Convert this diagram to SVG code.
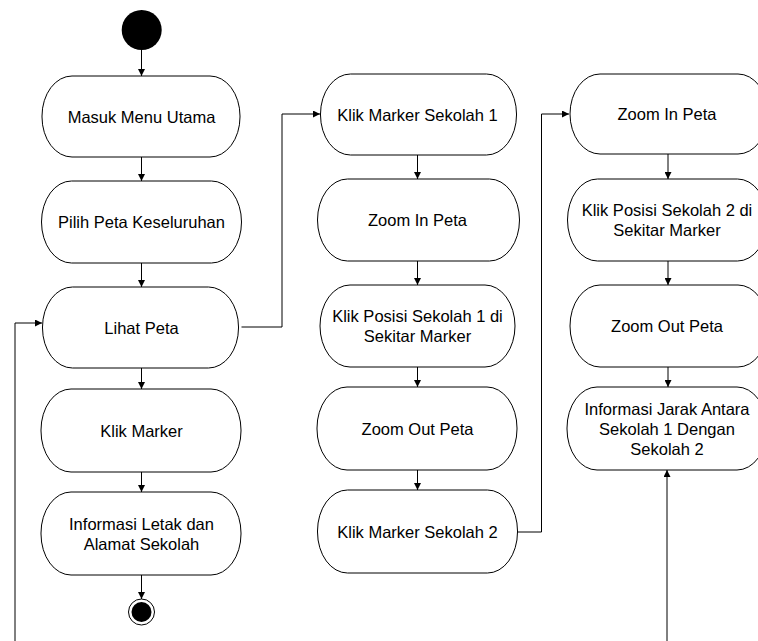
<svg xmlns="http://www.w3.org/2000/svg" width="758" height="641" viewBox="0 0 758 641">
<style>
.node rect{fill:#fff;stroke:#000;stroke-width:1}
text{font-family:"Liberation Sans",Arial,sans-serif;font-size:16.5px;fill:#000;text-anchor:middle}
.conn path{fill:none;stroke:#000;stroke-width:1;marker-end:url(#arr)}
</style>
<defs>
<marker id="arr" markerUnits="userSpaceOnUse" markerWidth="8" markerHeight="7" refX="7" refY="3.5" orient="auto">
<path d="M0,0 L7,3.5 L0,7 z" fill="#000"/>
</marker>
</defs>
<rect width="758" height="641" fill="#fff"/>
<g id="connectors" class="conn">
<path d="M141.5,50 V76"/>
<path d="M141.5,157 V181"/>
<path d="M141.5,263 V287"/>
<path d="M141.5,368 V389"/>
<path d="M141.5,472 V492"/>
<path d="M141.5,575 V599"/>
<path d="M241.5,327 H282 V114 H320"/>
<path d="M417.5,155 V179"/>
<path d="M417.5,261 V285"/>
<path d="M417.5,367 V387"/>
<path d="M417.5,470 V490"/>
<path d="M517.5,532 H541.5 V114 H569"/>
<path d="M668,154 V179"/>
<path d="M668,261 V285"/>
<path d="M668,367 V387"/>
<path d="M15,641 V323 H42"/>
<path d="M667,641 V470"/>
</g>
<g id="start"><circle cx="141.7" cy="30" r="20" fill="#000"/></g>
<g id="end"><circle cx="141.5" cy="612" r="13" fill="#fff" stroke="#000" stroke-width="1"/><circle cx="141.5" cy="612" r="10" fill="#000"/></g>
<g id="n1" class="node"><rect x="42" y="76" width="198" height="81" rx="30" ry="40"/><text x="141.5" y="122.5">Masuk Menu Utama</text></g>
<g id="n2" class="node"><rect x="41.5" y="181" width="200" height="82" rx="30" ry="41"/><text x="141.5" y="228">Pilih Peta Keseluruhan</text></g>
<g id="n3" class="node"><rect x="42.5" y="287" width="196" height="81" rx="30" ry="40"/><text x="141.5" y="334">Lihat Peta</text></g>
<g id="n4" class="node"><rect x="41" y="389" width="200" height="83" rx="30" ry="41"/><text x="141.5" y="436.5">Klik Marker</text></g>
<g id="n5" class="node"><rect x="41" y="492" width="200" height="83" rx="30" ry="41"/><text x="141.5" y="529.5">Informasi Letak dan<tspan x="141.5" dy="20">Alamat Sekolah</tspan></text></g>
<g id="m1" class="node"><rect x="320.5" y="74" width="196" height="81" rx="30" ry="40"/><text x="417.5" y="120.5">Klik Marker Sekolah 1</text></g>
<g id="m2" class="node"><rect x="317.5" y="179" width="202" height="82" rx="30" ry="41"/><text x="417.5" y="226">Zoom In Peta</text></g>
<g id="m3" class="node"><rect x="320" y="285" width="195" height="82" rx="30" ry="41"/><text x="417.5" y="322">Klik Posisi Sekolah 1 di<tspan x="417.5" dy="20">Sekitar Marker</tspan></text></g>
<g id="m4" class="node"><rect x="317" y="387" width="200" height="83" rx="30" ry="41"/><text x="417.5" y="434.5">Zoom Out Peta</text></g>
<g id="m5" class="node"><rect x="317.5" y="490" width="200" height="83" rx="30" ry="41"/><text x="417.5" y="537.5">Klik Marker Sekolah 2</text></g>
<g id="r1" class="node"><rect x="570" y="74" width="198" height="80" rx="30" ry="40"/><text x="667" y="120">Zoom In Peta</text></g>
<g id="r2" class="node"><rect x="567.5" y="179" width="200" height="82" rx="30" ry="41"/><text x="667" y="216">Klik Posisi Sekolah 2 di<tspan x="667" dy="20">Sekitar Marker</tspan></text></g>
<g id="r3" class="node"><rect x="570" y="285" width="198" height="82" rx="30" ry="41"/><text x="667" y="332">Zoom Out Peta</text></g>
<g id="r4" class="node"><rect x="567" y="387" width="200" height="83" rx="30" ry="41"/><text x="667" y="415">Informasi Jarak Antara<tspan x="667" dy="20">Sekolah 1 Dengan</tspan><tspan x="667" dy="20">Sekolah 2</tspan></text></g>
</svg>
